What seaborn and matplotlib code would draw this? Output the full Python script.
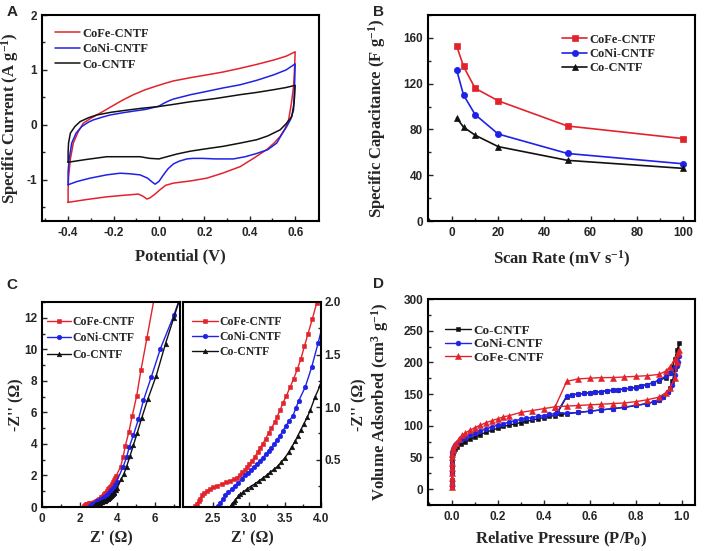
import matplotlib
matplotlib.use("Agg")
import matplotlib.pyplot as plt
import seaborn as sns
from matplotlib.ticker import MultipleLocator

# ---------------- data ----------------
# Panel A : cyclic voltammetry loops (potential V, specific current A/g)
cv_cofe_v = [-0.40, -0.40, -0.398, -0.39, -0.377, -0.355, -0.333, -0.30, -0.274, -0.244, -0.215, -0.16,
             -0.112, -0.06, -0.009, 0.03, 0.064, 0.14, 0.211, 0.28, 0.358, 0.43, 0.505, 0.56, 0.60,
             0.597, 0.593, 0.583, 0.571, 0.555, 0.534, 0.505, 0.475, 0.42, 0.358, 0.28, 0.211, 0.14,
             0.064, 0.03, 0.005, -0.02, -0.04, -0.053, -0.07, -0.09, -0.15, -0.23, -0.32, -0.40]
cv_cofe_i = [-1.41, -1.18, -0.95, -0.62, -0.33, -0.12, 0.03, 0.12, 0.18, 0.25, 0.32, 0.45,
             0.55, 0.64, 0.71, 0.76, 0.80, 0.86, 0.91, 0.96, 1.03, 1.10, 1.18, 1.25, 1.33,
             1.00, 0.70, 0.38, 0.09, -0.07, -0.21, -0.34, -0.45, -0.60, -0.76, -0.88, -0.97, -1.02,
             -1.06, -1.10, -1.18, -1.27, -1.33, -1.35, -1.30, -1.26, -1.28, -1.31, -1.36, -1.41]

cv_coni_v = [-0.40, -0.40, -0.396, -0.384, -0.365, -0.34, -0.31, -0.289, -0.25, -0.215, -0.16, -0.112,
             -0.06, -0.03, 0.0, 0.02, 0.045, 0.064, 0.14, 0.211, 0.28, 0.358, 0.43, 0.505, 0.56, 0.60,
             0.598, 0.596, 0.593, 0.58, 0.563, 0.54, 0.519, 0.48, 0.431, 0.38, 0.328, 0.25, 0.19, 0.15,
             0.123, 0.09, 0.064, 0.04, 0.02, 0.0, -0.017, -0.03, -0.05, -0.083, -0.13, -0.171, -0.23,
             -0.303, -0.36, -0.40]
cv_coni_i = [-1.09, -0.85, -0.64, -0.33, -0.15, -0.03, 0.05, 0.09, 0.14, 0.18, 0.22, 0.25,
             0.28, 0.31, 0.34, 0.39, 0.44, 0.47, 0.55, 0.61, 0.67, 0.73, 0.81, 0.91, 1.00, 1.11,
             0.80, 0.58, 0.27, 0.10, -0.03, -0.18, -0.33, -0.45, -0.52, -0.58, -0.62, -0.62, -0.61, -0.61,
             -0.62, -0.66, -0.71, -0.80, -0.91, -1.03, -1.08, -1.04, -0.97, -0.91, -0.89, -0.88, -0.91,
             -0.97, -1.03, -1.09]

cv_co_v = [-0.40, -0.40, -0.398, -0.39, -0.37, -0.347, -0.31, -0.274, -0.21, -0.156, -0.08, -0.009,
           0.06, 0.137, 0.25, 0.358, 0.43, 0.505, 0.56, 0.60,
           0.598, 0.595, 0.585, 0.56, 0.534, 0.48, 0.431, 0.36, 0.284, 0.20, 0.137, 0.08, 0.035, 0.0,
           -0.04, -0.083, -0.15, -0.23, -0.32, -0.40]
cv_co_i = [-0.68, -0.50, -0.33, -0.15, -0.03, 0.06, 0.13, 0.18, 0.23, 0.26, 0.30, 0.33,
           0.37, 0.42, 0.48, 0.55, 0.59, 0.64, 0.68, 0.72,
           0.55, 0.39, 0.15, 0.02, -0.09, -0.20, -0.27, -0.33, -0.39, -0.44, -0.48, -0.53, -0.58, -0.62,
           -0.61, -0.58, -0.58, -0.58, -0.63, -0.68]

# Panel B : specific capacitance vs scan rate
scan_rate = [2, 5, 10, 20, 50, 100]
cap_cofe = [153, 135, 116, 105, 83, 72]
cap_coni = [132, 110, 93, 76, 59, 50]
cap_co = [90, 82, 75, 65, 53, 46]

# Panel C : Nyquist plots (Z', -Z'')
eis_cofe_x = [2.25, 2.27, 2.30, 2.32, 2.34, 2.37, 2.41, 2.45, 2.50, 2.55, 2.62, 2.68, 2.74, 2.79, 2.83,
              2.87, 2.90, 2.94, 2.97, 3.00, 3.04, 3.08, 3.12, 3.15, 3.19, 3.23, 3.27, 3.31, 3.36, 3.39,
              3.43, 3.47, 3.52, 3.57, 3.62, 3.67, 3.72, 3.77, 3.82, 3.88, 3.94,
              4.18, 4.31, 4.43, 4.61, 4.79, 5.03, 5.26, 5.57, 6.00]
eis_cofe_y = [0.06, 0.08, 0.11, 0.13, 0.16, 0.18, 0.20, 0.22, 0.24, 0.25, 0.27, 0.285, 0.30, 0.315, 0.33,
              0.355, 0.38, 0.40, 0.43, 0.46, 0.49, 0.53, 0.57, 0.61, 0.65, 0.70, 0.75, 0.80, 0.86, 0.91,
              0.97, 1.04, 1.11, 1.19, 1.27, 1.36, 1.46, 1.58, 1.70, 1.84, 1.99,
              2.56, 3.20, 3.90, 4.74, 5.77, 7.05, 8.70, 10.70, 13.50]

eis_coni_x = [2.57, 2.60, 2.63, 2.67, 2.71, 2.76, 2.80, 2.85, 2.90, 2.94, 2.98, 3.02, 3.07, 3.11, 3.15,
              3.19, 3.23, 3.27, 3.31, 3.35, 3.39, 3.43, 3.47, 3.51, 3.56, 3.61, 3.65, 3.69, 3.78, 3.87,
              3.96, 4.31, 4.49, 4.63, 4.85, 5.12, 5.39, 5.80, 6.29, 7.01, 7.40]
eis_coni_y = [0.06, 0.09, 0.125, 0.16, 0.19, 0.22, 0.25, 0.28, 0.315, 0.35, 0.375, 0.40, 0.43, 0.46, 0.49,
              0.52, 0.55, 0.58, 0.615, 0.65, 0.69, 0.73, 0.775, 0.82, 0.87, 0.92, 0.99, 1.06, 1.19, 1.38,
              1.61, 2.56, 3.14, 3.78, 4.55, 5.55, 6.77, 8.23, 10.04, 12.18, 13.50]

eis_co_x = [2.74, 2.76, 2.79, 2.81, 2.85, 2.88, 2.92, 2.97, 3.02, 3.08, 3.14, 3.20, 3.25, 3.29, 3.35,
            3.40, 3.45, 3.50, 3.55, 3.59, 3.64, 3.68, 3.72, 3.76, 3.81, 3.85, 3.92, 3.99,
            4.20, 4.35, 4.49, 4.67, 4.85, 5.06, 5.30, 5.62, 6.07, 6.56, 7.00, 7.40]
eis_co_y = [0.05, 0.08, 0.10, 0.12, 0.15, 0.17, 0.195, 0.22, 0.245, 0.27, 0.30, 0.33, 0.355, 0.38, 0.41,
            0.44, 0.48, 0.52, 0.57, 0.62, 0.675, 0.73, 0.785, 0.84, 0.905, 0.97, 1.10, 1.21,
            1.75, 2.10, 2.56, 3.21, 3.91, 4.70, 5.66, 6.84, 8.33, 10.36, 12.00, 13.50]

# Panel D : N2 isotherms (adsorption then desorption)
iso_co_p = [0.0, 0.0, 0.0, 0.0, 0.001, 0.002, 0.004, 0.008, 0.015, 0.025, 0.04, 0.06, 0.08, 0.10, 0.125,
            0.15, 0.175, 0.20, 0.225, 0.25, 0.275, 0.30, 0.325, 0.35, 0.375, 0.40, 0.425, 0.45, 0.475,
            0.50, 0.55, 0.60, 0.65, 0.70, 0.75, 0.80, 0.85, 0.88, 0.90, 0.92, 0.94, 0.95, 0.96, 0.97,
            0.98, 0.99,
            0.98, 0.97, 0.96, 0.95, 0.93, 0.90, 0.875, 0.85, 0.825, 0.80, 0.775, 0.75, 0.725, 0.70,
            0.675, 0.65, 0.625, 0.60, 0.575, 0.55, 0.525, 0.50, 0.46]
iso_co_v = [5, 15, 25, 35, 45, 52, 57, 61, 64, 67, 71, 75, 79, 82, 86,
            90, 93, 96, 99, 101, 103, 105, 107, 109, 111, 113, 115, 116, 118,
            119, 121, 123, 125, 127, 129, 132, 135, 138, 141, 146, 153, 160, 170, 190,
            210, 230,
            220, 205, 192, 184, 176, 171, 168, 165, 163, 161, 159, 158, 157, 156,
            155, 154, 153, 152, 151, 150, 149, 146, 120]

iso_coni_p = [0.0, 0.0, 0.0, 0.001, 0.002, 0.004, 0.008, 0.015, 0.025, 0.04, 0.06, 0.08, 0.10, 0.125,
              0.15, 0.175, 0.20, 0.225, 0.25, 0.275, 0.30, 0.325, 0.35, 0.375, 0.40, 0.425, 0.45, 0.50,
              0.55, 0.60, 0.65, 0.70, 0.75, 0.80, 0.85, 0.88, 0.90, 0.92, 0.94, 0.96, 0.97, 0.98, 0.99,
              0.985, 0.97, 0.95, 0.93, 0.90, 0.875, 0.85, 0.825, 0.80, 0.775, 0.75, 0.725, 0.70, 0.675,
              0.65, 0.625, 0.60, 0.575, 0.55, 0.525, 0.50, 0.46]
iso_coni_v = [8, 25, 40, 52, 58, 63, 67, 70, 73, 77, 81, 85, 88, 92,
              95, 98, 101, 103, 106, 108, 110, 112, 113, 115, 116, 118, 119, 120,
              121, 123, 125, 127, 129, 132, 135, 138, 141, 146, 153, 165, 180, 195, 210,
              200, 192, 184, 178, 172, 168, 165, 163, 160, 159, 158, 157, 156, 155,
              154, 153, 152, 151, 150, 149, 147, 122]

iso_cofe_p = [0.0, 0.0, 0.0, 0.0, 0.0, 0.0, 0.001, 0.002, 0.004, 0.007, 0.012, 0.02, 0.03, 0.045, 0.06,
              0.08, 0.10, 0.125, 0.15, 0.175, 0.20, 0.225, 0.25, 0.30, 0.35, 0.40, 0.45, 0.50, 0.55,
              0.60, 0.65, 0.70, 0.75, 0.80, 0.85, 0.90, 0.93, 0.95, 0.97, 0.98, 0.99,
              0.985, 0.97, 0.95, 0.93, 0.90, 0.85, 0.80, 0.75, 0.70, 0.65, 0.60, 0.55, 0.50, 0.45]
iso_cofe_v = [4, 10, 18, 26, 34, 42, 50, 56, 61, 65, 69, 73, 79, 85, 89,
              93, 97, 101, 105, 108, 111, 114, 116, 121, 124, 127, 130, 131, 132,
              133, 134, 135, 136, 138, 141, 145, 152, 160, 175, 200, 220,
              215, 205, 193, 186, 181, 179, 178, 177, 176, 176, 175, 174, 170, 130]

labels = ["CoFe-CNTF", "CoNi-CNTF", "Co-CNTF"]

# ---------------- style ----------------
sns.set_style("ticks")
plt.rcParams["font.family"] = ["Liberation Sans", "DejaVu Sans"]
plt.rcParams["font.weight"] = "bold"
plt.rcParams["mathtext.default"] = "regular"
plt.rcParams["axes.linewidth"] = 1.5
plt.rcParams["axes.edgecolor"] = "black"

RED = "#E3232C"
BLUE = "#1F22E6"
BLACK = "#111111"
SERIF = ["Liberation Serif", "DejaVu Serif"]
LAB = dict(family=SERIF, weight="bold", size=12)
LAB_C = dict(family=SERIF, weight="bold", size=11.5)

fig = plt.figure(figsize=(7.1, 5.51), dpi=100)
W, H = 710.0, 551.0


def add_ax(l, t, r, b):
    return fig.add_axes([l / W, 1 - b / H, (r - l) / W, (b - t) / H])


def style_ax(ax, right=False):
    ax.tick_params(which="both", direction="in", labelsize=8.5, width=1.0,
                   top=False, right=right, left=not right, bottom=True,
                   labelleft=not right, labelright=right)
    ax.tick_params(which="major", length=3.5)
    ax.tick_params(which="minor", length=2)
    ax.tick_params(axis="x", pad=4.3)
    ax.tick_params(axis="y", pad=3.5 if not right else 2.5)
    for s in ax.spines.values():
        s.set_visible(True)
        s.set_linewidth(1.5)
        s.set_color("black")


def leg(ax, x, y, size=9, ls=0.25, hl=2.0, mscale=1.0):
    lg = ax.legend(loc="upper left", bbox_to_anchor=(x, y), frameon=False,
                   borderpad=0, borderaxespad=0, handlelength=hl, handletextpad=0.15,
                   labelspacing=ls, markerscale=mscale,
                   prop=dict(family=SERIF, weight="bold", size=size))
    return lg


# ---------------- Panel A ----------------
axA = add_ax(42, 15, 319, 221)
sns.lineplot(x=cv_cofe_v, y=cv_cofe_i, ax=axA, sort=False, estimator=None, color=RED, lw=1.1, label=labels[0])
sns.lineplot(x=cv_coni_v, y=cv_coni_i, ax=axA, sort=False, estimator=None, color=BLUE, lw=1.1, label=labels[1])
sns.lineplot(x=cv_co_v, y=cv_co_i, ax=axA, sort=False, estimator=None, color=BLACK, lw=1.1, label=labels[2])
axA.set_xlim(-0.515, 0.705)
axA.set_ylim(-1.75, 2.0)
axA.xaxis.set_major_locator(MultipleLocator(0.2))
axA.xaxis.set_minor_locator(MultipleLocator(0.1))
axA.yaxis.set_major_locator(MultipleLocator(1))
axA.yaxis.set_minor_locator(MultipleLocator(0.5))
axA.set_xticks([-0.4, -0.2, 0.0, 0.2, 0.4, 0.6])
axA.set_xticklabels(["-0.4", "-0.2", "0.0", "0.2", "0.4", "0.6"])
axA.set_yticks([-1, 0, 1, 2])
axA.set_yticklabels(["-1", "0", "1", "2"])
style_ax(axA)
axA.set_xlabel("Potential (V)", **LAB)
axA.set_ylabel("Specific Current (A g$^{-1}$)", **LAB)
axA.xaxis.set_label_coords(0.5, -0.135)
axA.yaxis.set_label_coords(-0.075, 0.5)
leg(axA, 0.047, 0.938, size=9, ls=0.28, hl=2.0)

# ---------------- Panel B ----------------
axB = add_ax(428, 15, 695, 221)
sns.lineplot(x=scan_rate, y=cap_cofe, ax=axB, color=RED, lw=1.2, marker="s", markersize=4.5,
             markeredgecolor=RED, markeredgewidth=0.5, label=labels[0])
sns.lineplot(x=scan_rate, y=cap_coni, ax=axB, color=BLUE, lw=1.2, marker="o", markersize=4.5,
             markeredgecolor=BLUE, markeredgewidth=0.5, label=labels[1])
sns.lineplot(x=scan_rate, y=cap_co, ax=axB, color=BLACK, lw=1.2, marker="^", markersize=4.5,
             markeredgecolor=BLACK, markeredgewidth=0.5, label=labels[2])
axB.set_xlim(-10.4, 105.2)
axB.set_ylim(0, 180)
axB.set_xticks([0, 20, 40, 60, 80, 100])
axB.xaxis.set_minor_locator(MultipleLocator(10))
axB.set_yticks([0, 40, 80, 120, 160])
axB.yaxis.set_minor_locator(MultipleLocator(20))
style_ax(axB)
axB.set_xlabel("Scan Rate (mV s$^{-1}$)", **LAB)
axB.set_ylabel("Specific Capacitance (F g$^{-1}$)", **LAB)
axB.xaxis.set_label_coords(0.5, -0.135)
axB.yaxis.set_label_coords(-0.15, 0.5)
leg(axB, 0.502, 0.909, size=9, ls=0.18, hl=2.0)

# ---------------- Panel C (left) ----------------
axC1 = add_ax(42, 302, 180, 507)
axC2 = add_ax(183, 302, 321, 507)
series_c = [(eis_cofe_x, eis_cofe_y, RED, "s", labels[0]),
            (eis_coni_x, eis_coni_y, BLUE, "o", labels[1]),
            (eis_co_x, eis_co_y, BLACK, "^", labels[2])]
for ax in (axC1, axC2):
    for xs, ys, c, m, lab in series_c:
        sns.lineplot(x=xs, y=ys, ax=ax, sort=False, estimator=None, color=c, lw=1.0,
                     marker=m, markersize=3.3, markeredgecolor=c, markeredgewidth=0.4, label=lab)

axC1.set_xlim(0, 7.33)
axC1.set_ylim(0, 13)
axC1.set_xticks([0, 2, 4, 6])
axC1.xaxis.set_minor_locator(MultipleLocator(1))
axC1.set_yticks([0, 2, 4, 6, 8, 10, 12])
axC1.yaxis.set_minor_locator(MultipleLocator(1))
style_ax(axC1)
axC1.set_xlabel("Z' (\u03a9)", **LAB_C)
axC1.set_ylabel("-Z'' (\u03a9)", **LAB_C)
axC1.xaxis.set_label_coords(0.5, -0.112)
axC1.yaxis.set_label_coords(-0.13, 0.5)
leg(axC1, 0.036, 0.933, size=8.5, ls=0.38, hl=2.0)

axC2.set_xlim(2.08, 4.0)
axC2.set_ylim(0.05, 2.0)
axC2.set_xticks([2.5, 3.0, 3.5, 4.0])
axC2.xaxis.set_minor_locator(MultipleLocator(0.25))
axC2.set_yticks([0.5, 1.0, 1.5, 2.0])
axC2.yaxis.set_minor_locator(MultipleLocator(0.25))
axC2.yaxis.tick_right()
axC2.yaxis.set_label_position("right")
style_ax(axC2, right=True)
axC2.set_xlabel("Z' (\u03a9)", **LAB_C)
axC2.set_ylabel("-Z'' (\u03a9)", **LAB_C)
axC2.xaxis.set_label_coords(0.5, -0.112)
axC2.yaxis.set_label_coords(1.22, 0.5)
leg(axC2, 0.065, 0.933, size=8.5, ls=0.28, hl=2.2)

# ---------------- Panel D ----------------
axD = add_ax(428, 299, 695, 505)
sns.lineplot(x=iso_co_p, y=iso_co_v, ax=axD, sort=False, estimator=None, color=BLACK, lw=1.0,
             marker="s", markersize=3.5, markeredgecolor=BLACK, markeredgewidth=0.4, label=labels[2])
sns.lineplot(x=iso_coni_p, y=iso_coni_v, ax=axD, sort=False, estimator=None, color=BLUE, lw=1.0,
             marker="o", markersize=3.5, markeredgecolor=BLUE, markeredgewidth=0.4, label=labels[1])
sns.lineplot(x=iso_cofe_p, y=iso_cofe_v, ax=axD, sort=False, estimator=None, color=RED, lw=1.0,
             marker="^", markersize=3.8, markeredgecolor=RED, markeredgewidth=0.4, label=labels[0])
axD.set_xlim(-0.103, 1.058)
axD.set_ylim(-25, 300)
axD.set_xticks([0.0, 0.2, 0.4, 0.6, 0.8, 1.0])
axD.set_xticklabels(["0.0", "0.2", "0.4", "0.6", "0.8", "1.0"])
axD.xaxis.set_minor_locator(MultipleLocator(0.1))
axD.set_yticks([0, 50, 100, 150, 200, 250, 300])
axD.yaxis.set_minor_locator(MultipleLocator(25))
style_ax(axD)
axD.set_xlabel("Relative Pressure (P/P$_0$)", **LAB)
axD.set_ylabel("Volume Adsorbed (cm$^3$ g$^{-1}$)", **LAB)
axD.xaxis.set_label_coords(0.5, -0.12)
axD.yaxis.set_label_coords(-0.139, 0.5)
leg(axD, 0.064, 0.875, size=9.5, ls=0.08, hl=2.0)

# ---------------- panel letters ----------------
for txt, (px, py) in {"A": (12, 12), "B": (379, 12), "C": (12, 285), "D": (379, 284)}.items():
    fig.text(px / W, 1 - py / H, txt, ha="center", va="center", fontsize=11,
             fontweight="bold", family=["Liberation Sans", "DejaVu Sans"])

fig.savefig("out.png", dpi=100)
